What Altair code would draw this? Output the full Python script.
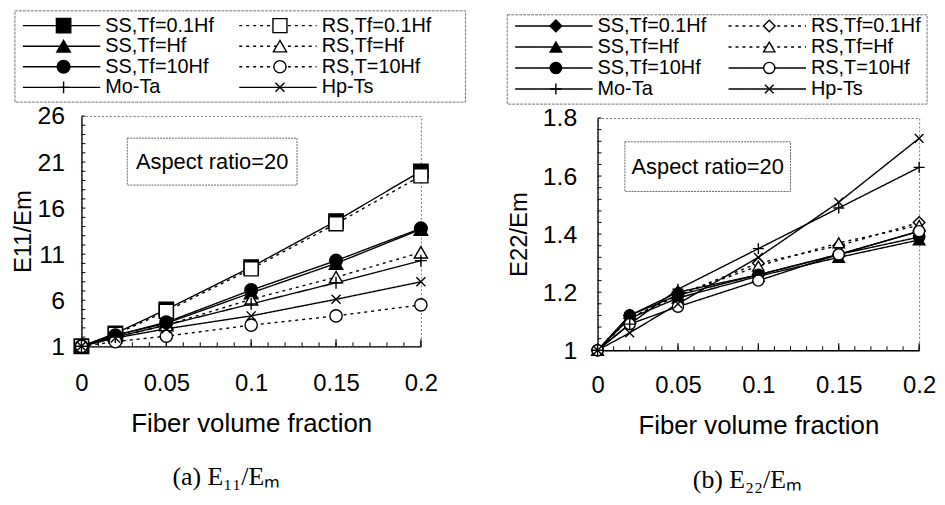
import altair as alt
import pandas as pd

# ---------------- data ----------------
fractions = [0, 0.02, 0.05, 0.1, 0.15, 0.2]
series_names = ["SS,Tf=0.1Hf", "RS,Tf=0.1Hf", "SS,Tf=Hf", "RS,Tf=Hf",
                "SS,Tf=10Hf", "RS,T=10Hf", "Mo-Ta", "Hp-Ts"]

# (a) E11/Em
e11_ss_01 = [1, 2.4, 5.0, 9.6, 14.6, 20.0]
e11_rs_01 = [1, 2.3, 4.8, 9.4, 14.3, 19.5]
e11_ss_1 = [1, 2.2, 3.5, 6.8, 10.0, 13.7]
e11_rs_1 = [1, 2.0, 3.3, 6.1, 8.5, 11.2]
e11_ss_10 = [1, 2.2, 3.6, 7.1, 10.3, 13.8]
e11_rs_10 = [1, 1.5, 2.1, 3.3, 4.3, 5.5]
e11_mota = [1, 2.0, 3.3, 5.6, 7.9, 10.3]
e11_hpts = [1, 1.9, 2.9, 4.3, 6.1, 8.0]

# (b) E22/Em
e22_ss_01 = [1, 1.12, 1.20, 1.26, 1.33, 1.41]
e22_rs_01 = [1, 1.11, 1.19, 1.30, 1.36, 1.44]
e22_ss_1 = [1, 1.11, 1.18, 1.255, 1.32, 1.38]
e22_rs_1 = [1, 1.11, 1.19, 1.29, 1.37, 1.43]
e22_ss_10 = [1, 1.12, 1.19, 1.26, 1.33, 1.39]
e22_rs_10 = [1, 1.09, 1.15, 1.24, 1.33, 1.41]
e22_mota = [1, 1.09, 1.21, 1.35, 1.49, 1.63]
e22_hpts = [1, 1.06, 1.16, 1.32, 1.51, 1.73]

left_ticks = [1, 6, 11, 16, 21, 26]
right_ticks = [1, 1.2, 1.4, 1.6, 1.8]
x_ticks = [0, 0.05, 0.1, 0.15, 0.2]

note_text = "Aspect ratio=20"
x_title = "Fiber volume fraction"

# ---------------- styles ----------------
PLUS = "M-1,0L1,0M0,-1L0,1"
XMARK = "M-0.8,-0.8L0.8,0.8M-0.8,0.8L0.8,-0.8"
SOLID = [1, 0]
DOT = [3, 4]
FONT = "Liberation Sans"


def long_df(cols):
    rows = []
    for name, vals in zip(series_names, cols):
        for xv, yv in zip(fractions, vals):
            rows.append({"series": name, "x": xv, "y": yv})
    return pd.DataFrame(rows)


def make_panel(cols, shapes, fills, dashes, sizes, ydom, yticks, yminor_step,
               ytitle, note_box, caption, W, H, BOXW, BOXOFF, LH, BOXTOP, col_off,
               lab_pad_y, title_pad_y, lab_pad_x, title_pad_x, cap_off, cap_dx, vspace):
    df = long_df(cols)
    xscale = alt.Scale(domain=[0, 0.2], nice=False, zero=False)
    yscale = alt.Scale(domain=ydom, nice=False, zero=False)
    xaxis = alt.Axis(values=x_ticks, format="~g", title=x_title, tickSize=0,
                     labelPadding=lab_pad_x, titlePadding=title_pad_x, labelFontSize=24,
                     titleFontSize=26, labelOverlap=False, labelFlush=False,
                     grid=False, domainColor="black", domainWidth=1.3,
                     titleFontWeight="normal", labelColor="black", titleColor="black")
    yaxis = alt.Axis(values=yticks, format="~g", title=ytitle, tickSize=0,
                     labelPadding=lab_pad_y, titlePadding=title_pad_y, labelFontSize=25,
                     titleFontSize=24, labelOverlap=False, labelFlush=False,
                     grid=False, domainColor="black", domainWidth=1.3,
                     titleFontWeight="normal", labelColor="black", titleColor="black")

    dash_scale = alt.Scale(domain=series_names, range=dashes)
    shape_scale = alt.Scale(domain=series_names, range=shapes)
    fill_scale = alt.Scale(domain=series_names, range=fills)
    size_scale = alt.Scale(domain=series_names, range=sizes)

    # inner minor / major ticks
    xminor = [round(0.01 * i, 2) for i in range(21)]
    ymin, ymax = ydom
    n = int(round((ymax - ymin) / yminor_step))
    yminor = [ymin + yminor_step * i for i in range(n + 1)]
    xt_minor = alt.Chart(pd.DataFrame({"x": xminor})).mark_rule(
        color="black", strokeWidth=1).encode(
        x=alt.X("x:Q", scale=xscale, axis=xaxis),
        y=alt.value(H), y2=alt.value(H - 4))
    xt_major = alt.Chart(pd.DataFrame({"x": x_ticks})).mark_rule(
        color="black", strokeWidth=1.2).encode(
        x=alt.X("x:Q", scale=xscale, axis=xaxis),
        y=alt.value(H), y2=alt.value(H - 7))
    yt_minor = alt.Chart(pd.DataFrame({"y": yminor})).mark_rule(
        color="black", strokeWidth=1).encode(
        y=alt.Y("y:Q", scale=yscale, axis=yaxis),
        x=alt.value(0), x2=alt.value(4))

    lines = alt.Chart(df).mark_line(color="black", strokeWidth=1.4).encode(
        x=alt.X("x:Q", scale=xscale, axis=xaxis),
        y=alt.Y("y:Q", scale=yscale, axis=yaxis),
        strokeDash=alt.StrokeDash("series:N", scale=dash_scale, legend=None),
        detail="series:N",
        order="x:Q",
    )
    points = alt.Chart(df).mark_point(stroke="black", strokeWidth=1.4,
                                      opacity=1, fillOpacity=1).encode(
        x=alt.X("x:Q", scale=xscale, axis=xaxis),
        y=alt.Y("y:Q", scale=yscale, axis=yaxis),
        shape=alt.Shape("series:N", scale=shape_scale, legend=None),
        fill=alt.Fill("series:N", scale=fill_scale, legend=None),
        size=alt.Size("series:N", scale=size_scale, legend=None),
    )

    nb = pd.DataFrame({"x0": [note_box[0]], "x1": [note_box[1]],
                       "y0": [note_box[2]], "y1": [note_box[3]],
                       "tx": [(note_box[0] + note_box[1]) / 2],
                       "ty": [(note_box[2] + note_box[3]) / 2],
                       "label": [note_text]})
    note_rect = alt.Chart(nb).mark_rect(fill="white", stroke="#666",
                                        strokeWidth=1, strokeDash=[2, 1]).encode(
        x=alt.X("x0:Q", scale=xscale, axis=xaxis), x2="x1:Q",
        y=alt.Y("y0:Q", scale=yscale, axis=yaxis), y2="y1:Q")
    note_lbl = alt.Chart(nb).mark_text(fontSize=22, font=FONT, color="black").encode(
        x=alt.X("tx:Q", scale=xscale, axis=xaxis),
        y=alt.Y("ty:Q", scale=yscale, axis=yaxis),
        text="label:N")

    plot = alt.layer(xt_minor, xt_major, yt_minor, note_rect, note_lbl,
                     lines, points).properties(
        width=W, height=H,
        title=alt.TitleParams(caption, orient="bottom", font="Liberation Serif",
                              fontSize=26, fontWeight="normal", offset=cap_off,
                              dx=cap_dx, color="black"))

    # ---------- legend (drawn as its own small chart, origin = plot origin) ----------
    lrows = []
    for i, name in enumerate(series_names):
        c = i % 2
        r = i // 2
        base = c * col_off
        lrows.append({"series": name, "row": r,
                      "x0": base + 8, "x1": base + 86,
                      "xm": base + 49, "xt": base + 91})
    ldf = pd.DataFrame(lrows)
    # legend coordinates are measured from the legend box's left edge
    lx = alt.Scale(domain=[BOXOFF, BOXOFF + W], nice=False, zero=False)
    ly = alt.Scale(type="point", domain=[0, 1, 2, 3], padding=0.72)
    boxdf = pd.DataFrame({"b0": [0], "b1": [BOXW]})
    leg_box = alt.Chart(boxdf).mark_rect(fill="white", stroke="#777",
                                         strokeWidth=1, strokeDash=[3, 1]).encode(
        x=alt.X("b0:Q", scale=lx, axis=None), x2="b1:Q",
        y=alt.value(BOXTOP), y2=alt.value(LH))
    leg_lines = alt.Chart(ldf).mark_rule(color="black", strokeWidth=1.4).encode(
        x=alt.X("x0:Q", scale=lx, axis=None), x2="x1:Q",
        y=alt.Y("row:O", scale=ly, axis=None),
        strokeDash=alt.StrokeDash("series:N", scale=dash_scale, legend=None))
    leg_pts = alt.Chart(ldf).mark_point(stroke="black", strokeWidth=1.4,
                                        opacity=1, fillOpacity=1).encode(
        x=alt.X("xm:Q", scale=lx, axis=None),
        y=alt.Y("row:O", scale=ly, axis=None),
        shape=alt.Shape("series:N", scale=shape_scale, legend=None),
        fill=alt.Fill("series:N", scale=fill_scale, legend=None),
        size=alt.Size("series:N", scale=size_scale, legend=None))
    leg_txt = alt.Chart(ldf).mark_text(align="left", baseline="middle",
                                       fontSize=20, font=FONT, color="black").encode(
        x=alt.X("xt:Q", scale=lx, axis=None),
        y=alt.Y("row:O", scale=ly, axis=None),
        text="series:N")
    legend = alt.layer(leg_box, leg_lines, leg_pts, leg_txt).properties(
        width=W, height=LH, view=alt.ViewBackground(stroke="transparent"))

    return alt.vconcat(legend, plot, spacing=vspace).resolve_scale(
        strokeDash="independent", shape="independent", fill="independent",
        size="independent")


left_cols = [e11_ss_01, e11_rs_01, e11_ss_1, e11_rs_1, e11_ss_10, e11_rs_10,
             e11_mota, e11_hpts]
right_cols = [e22_ss_01, e22_rs_01, e22_ss_1, e22_rs_1, e22_ss_10, e22_rs_10,
              e22_mota, e22_hpts]

left = make_panel(
    left_cols,
    shapes=["square", "square", "triangle-up", "triangle-up", "circle", "circle", PLUS, XMARK],
    fills=["black", "white", "black", "white", "black", "white", "black", "black"],
    dashes=[SOLID, DOT, SOLID, DOT, SOLID, DOT, SOLID, SOLID],
    sizes=[210, 130, 180, 150, 180, 140, 230, 180],
    ydom=[1, 26], yticks=left_ticks, yminor_step=1,
    ytitle="E11/Em", note_box=[0.027, 0.127, 18.5, 23.6],
    caption="(a) E\u2081\u2081/E\u2098",
    W=342, H=232, BOXW=454, BOXOFF=67, LH=92, BOXTOP=0, col_off=218,
    lab_pad_y=17, title_pad_y=2, lab_pad_x=26, title_pad_x=15, cap_off=28,
    cap_dx=-25, vspace=0)

right = make_panel(
    right_cols,
    shapes=["diamond", "diamond", "triangle-up", "triangle-up", "circle", "circle", PLUS, XMARK],
    fills=["black", "white", "black", "white", "black", "white", "black", "black"],
    dashes=[SOLID, DOT, SOLID, DOT, SOLID, SOLID, SOLID, SOLID],
    sizes=[140, 120, 160, 140, 160, 140, 230, 200],
    ydom=[1, 1.8], yticks=right_ticks, yminor_step=0.04,
    ytitle="E22/Em", note_box=[0.017, 0.12, 1.547, 1.718],
    caption="(b) E\u2082\u2082/E\u2098",
    W=324, H=234, BOXW=423, BOXOFF=91, LH=94, BOXTOP=4, col_off=215,
    lab_pad_y=21, title_pad_y=11, lab_pad_x=24, title_pad_x=15, cap_off=29,
    cap_dx=-11, vspace=0)

chart = alt.hconcat(left, right, spacing=39).properties(
    padding={"left": 2, "top": 0, "right": 0, "bottom": 0}
).configure(font=FONT).configure_view(
    stroke="#777", strokeDash=[2, 2], strokeWidth=1
)

chart.save("out.html", embed_options={"renderer": "svg", "actions": False})
